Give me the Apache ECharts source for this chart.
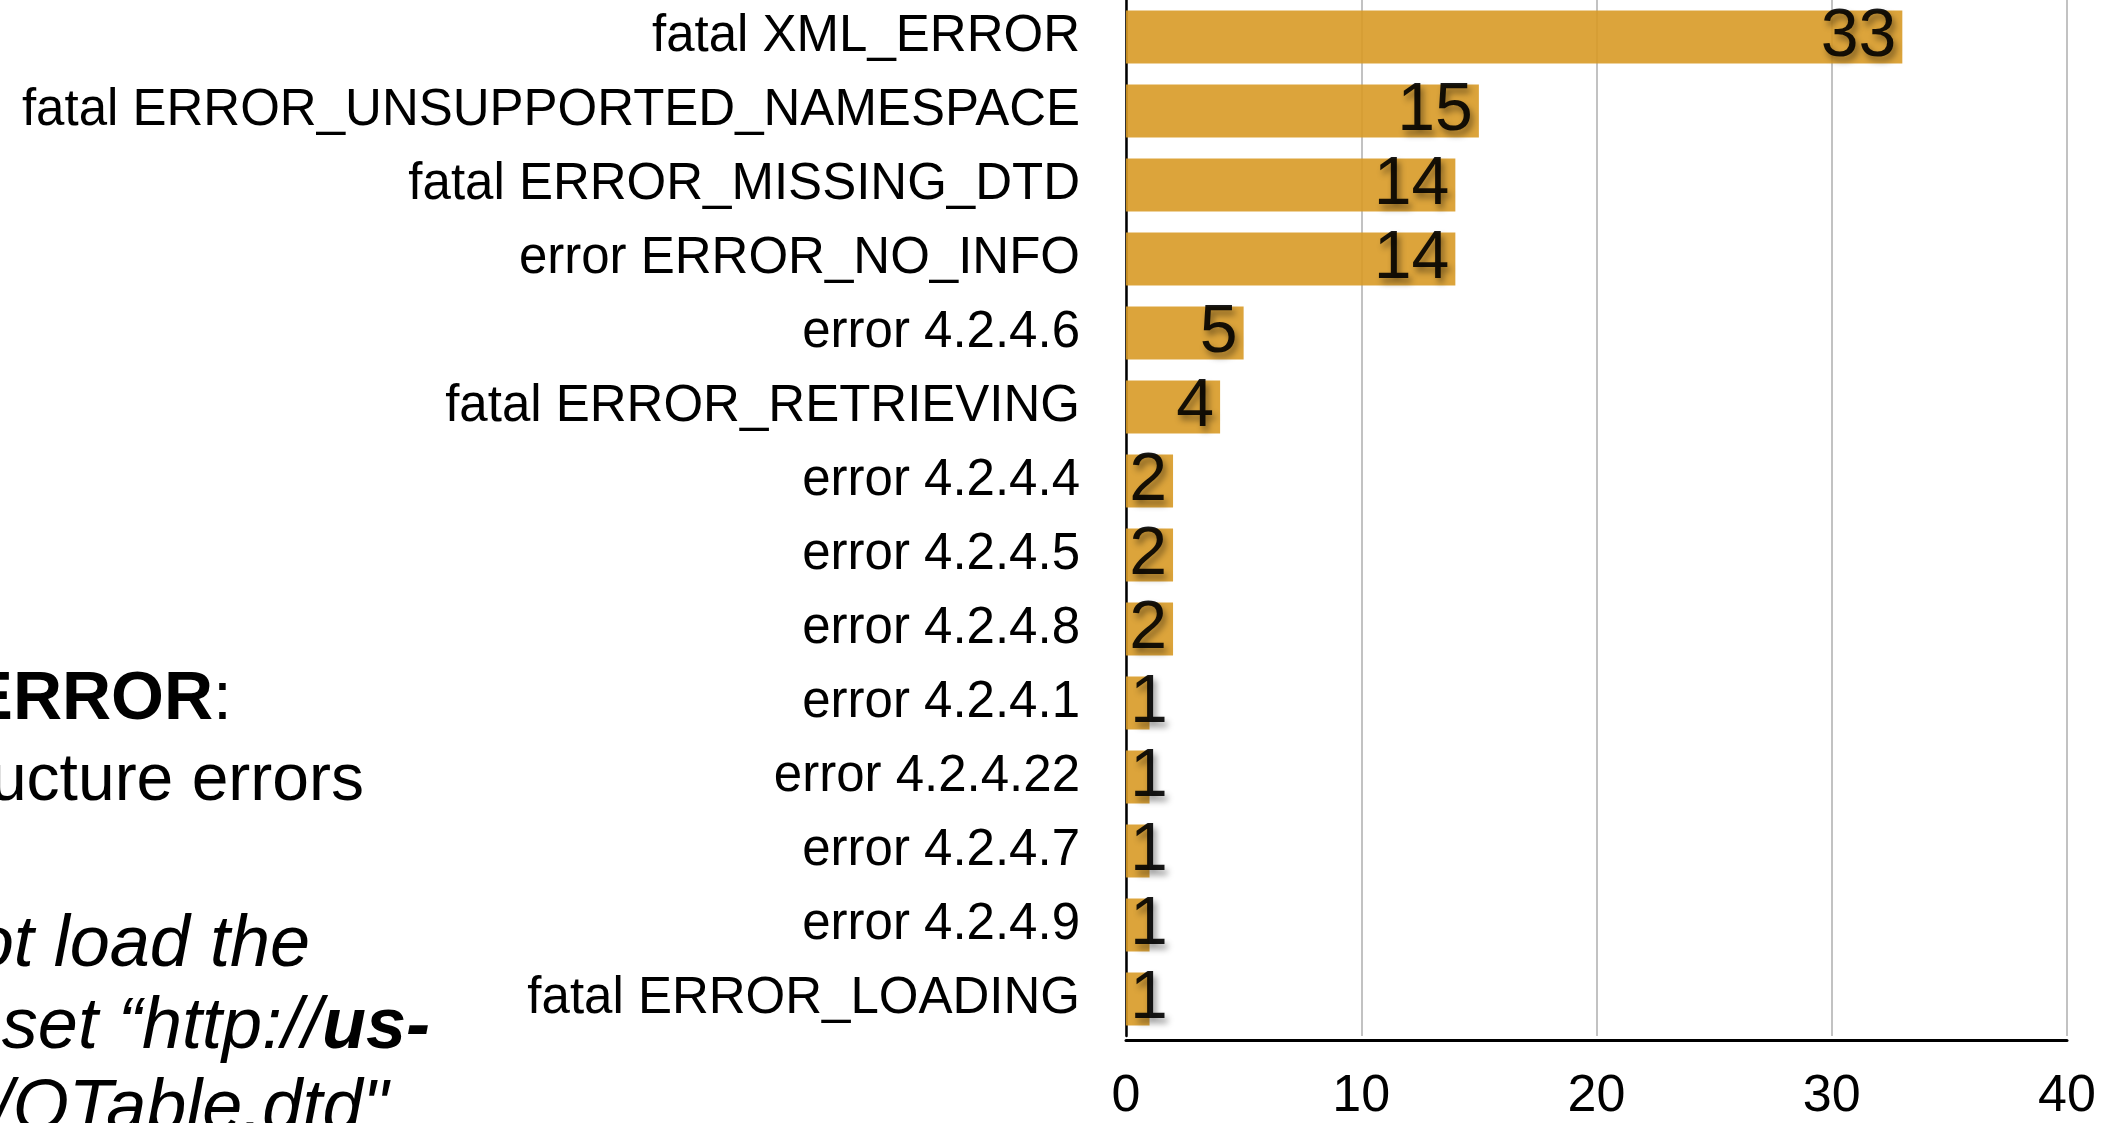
<!DOCTYPE html>
<html>
<head>
<meta charset="utf-8">
<script src="https://cdn.jsdelivr.net/npm/echarts@6/dist/echarts.min.js"></script>
<style>
  html, body { margin: 0; padding: 0; background: #ffffff; }
  #chart { width: 2101px; height: 1123px; }
</style>
</head>
<body>
<div id="chart"></div>
<script>
// ---- data ----
const categories = [
  'fatal XML_ERROR',
  'fatal ERROR_UNSUPPORTED_NAMESPACE',
  'fatal ERROR_MISSING_DTD',
  'error ERROR_NO_INFO',
  'error 4.2.4.6',
  'fatal ERROR_RETRIEVING',
  'error 4.2.4.4',
  'error 4.2.4.5',
  'error 4.2.4.8',
  'error 4.2.4.1',
  'error 4.2.4.22',
  'error 4.2.4.7',
  'error 4.2.4.9',
  'fatal ERROR_LOADING'
];
const counts = [33, 15, 14, 14, 5, 4, 2, 2, 2, 1, 1, 1, 1, 1];
const xTicks = { min: 0, max: 40, interval: 10 };
const sideNotes = [
  { key: 'title', text: '{b|ERROR}{n|:}' },
  { key: 'line1', text: 'ucture errors' },
  { key: 'line2', text: 'ot load the' },
  { key: 'line3', text: 'set \u201chttp://{bi|us-}' },
  { key: 'line4', text: '/OTable.dtd"' }
];

// ---- chart ----
const FONT = "'Liberation Sans', Arial, Helvetica, sans-serif";
const chart = echarts.init(document.getElementById('chart'), null, { renderer: 'canvas' });

const barData = counts.map(function (v) {
  const item = { value: v };
  if (v < 2) {
    item.label = { position: 'insideLeft', distance: 4 };
  }
  return item;
});

const notePos = {
  title: { x: 232, y: 700, size: 68, italic: false },
  line1: { x: 364, y: 782, size: 66, italic: false },
  line2: { x: 310, y: 946, size: 72, italic: true },
  line3: { x: 430, y: 1028, size: 72, italic: true },
  line4: { x: 388, y: 1110, size: 72, italic: true }
};

const graphics = sideNotes.map(function (n) {
  const p = notePos[n.key];
  return {
    type: 'text',
    x: p.x,
    y: p.y,
    style: {
      text: n.text,
      fill: '#000',
      font: (p.italic ? 'italic ' : '') + p.size + 'px ' + FONT,
      align: 'right',
      verticalAlign: 'middle',
      rich: {
        b: { fontWeight: 'bold', fontSize: p.size, fontFamily: FONT, fill: '#000' },
        n: { fontSize: p.size, fontFamily: FONT, fill: '#000' },
        bi: { fontWeight: 'bold', fontStyle: 'italic', fontSize: p.size, fontFamily: FONT, fill: '#000' }
      }
    }
  };
});

chart.setOption({
  animation: false,
  backgroundColor: '#ffffff',
  grid: { left: 1126, right: 34, top: -1, bottom: 85, containLabel: false },
  xAxis: {
    type: 'value',
    min: xTicks.min,
    max: xTicks.max,
    interval: xTicks.interval,
    offset: 4,
    axisLine: { show: true, lineStyle: { color: '#000', width: 3 } },
    axisTick: { show: false },
    axisLabel: { fontFamily: FONT, fontSize: 52, color: '#000', margin: 31 },
    splitLine: { show: true, lineStyle: { color: '#c2c2c2', width: 2 } }
  },
  yAxis: {
    type: 'category',
    data: categories,
    inverse: true,
    axisLine: { show: true, lineStyle: { color: '#000', width: 2.5 } },
    axisTick: { show: false },
    axisLabel: { fontFamily: FONT, fontSize: 51, color: '#000', margin: 46 }
  },
  series: [{
    type: 'bar',
    data: barData,
    barWidth: '71.5%',
    itemStyle: { color: '#D89A26', opacity: 0.9 },
    label: {
      show: true,
      position: 'insideRight',
      distance: 6,
      fontFamily: FONT,
      fontSize: 68,
      color: '#000',
      textShadowColor: 'rgba(0,0,0,0.45)',
      textShadowBlur: 6,
      textShadowOffsetX: 3,
      textShadowOffsetY: 5
    }
  }],
  graphic: graphics
});
</script>
</body>
</html>
